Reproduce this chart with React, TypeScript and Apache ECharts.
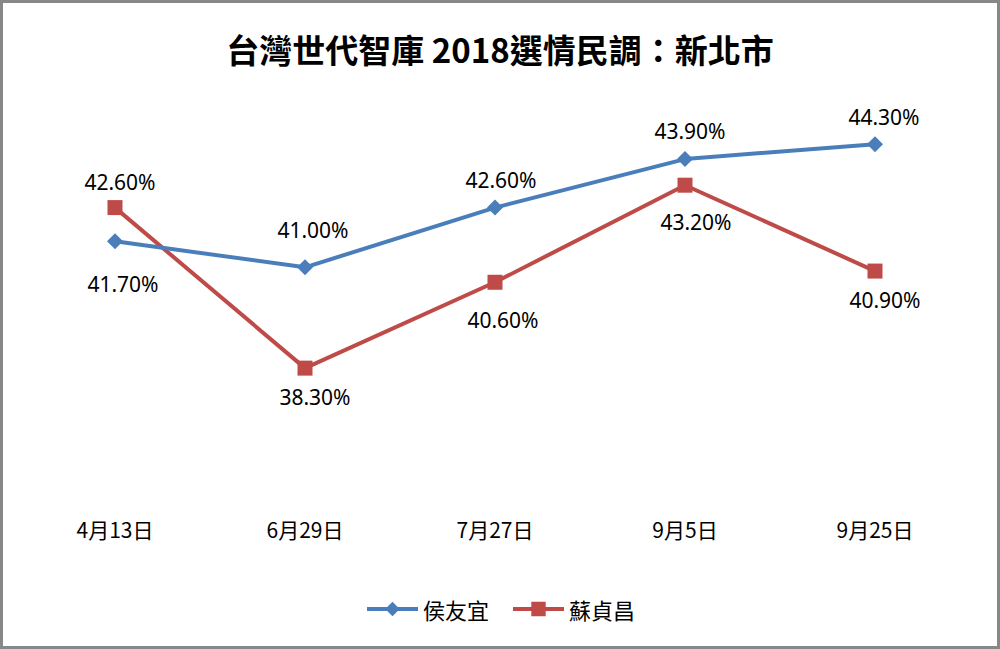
import React, { useEffect, useRef } from "react";
import * as echarts from "echarts";

const categories = ["4月13日", "6月29日", "7月27日", "9月5日", "9月25日"];
const houValues = [41.7, 41.0, 42.6, 43.9, 44.3];
const suValues = [42.6, 38.3, 40.6, 43.2, 40.9];
const seriesNames = ["侯友宜", "蘇貞昌"];
const titleText = "台灣世代智庫 2018選情民調：新北市";

// label placement (style only)
const houLabelOffsets = [[8, 43], [8, -37], [6, -28], [5, -28], [9, -27]];
const suLabelOffsets = [[5, -26], [10, 29], [8, 38], [11, 37], [10, 29]];

const labelFont = "'Noto Sans', sans-serif";
const cjkFont = "'Noto Sans CJK TC', 'Noto Sans', sans-serif";

function buildData(values: number[], offsets: number[][]) {
  return values.map((v, i) => ({
    value: v,
    label: { offset: offsets[i] },
  }));
}

export default function App() {
  const ref = useRef<HTMLDivElement>(null);
  useEffect(() => {
    if (!ref.current) return;
    const chart = echarts.init(ref.current, undefined, { renderer: "svg" });
    const labelCommon = {
      show: true,
      position: "inside",
      formatter: (p: any) => Number(p.value).toFixed(2) + "%",
      color: "#000",
      fontSize: 21,
      fontFamily: labelFont,
    };
    chart.setOption({
      animation: false,
      backgroundColor: "#fff",
      title: {
        text: titleText,
        left: "center",
        top: 27,
        textStyle: {
          fontSize: 33,
          fontWeight: "bold",
          color: "#000",
          fontFamily: cjkFont,
        },
      },
      graphic: [
        {
          type: "rect",
          shape: { x: 1.5, y: 1.5, width: 997, height: 646 },
          style: { fill: "none", stroke: "#888", lineWidth: 3 },
          silent: true,
        },
      ],
      legend: {
        data: seriesNames,
        bottom: 24,
        left: "center",
        itemWidth: 51,
        itemHeight: 18,
        itemGap: 22,
        lineStyle: { width: 4 },
        textStyle: { fontSize: 22, color: "#000", fontFamily: cjkFont },
      },
      grid: { left: 20, right: 30, top: 118, bottom: 139 },
      xAxis: {
        type: "category",
        data: categories,
        boundaryGap: true,
        axisLine: { show: false },
        axisTick: { show: false },
        axisLabel: {
          margin: 8,
          fontSize: 21,
          color: "#000",
          fontFamily: cjkFont,
        },
      },
      yAxis: {
        type: "value",
        min: 34.5,
        max: 45,
        show: false,
        splitLine: { show: false },
      },
      series: [
        {
          name: seriesNames[0],
          type: "line",
          data: buildData(houValues, houLabelOffsets),
          symbol: "diamond",
          symbolSize: 16,
          lineStyle: { color: "#4a7ebb", width: 4 },
          itemStyle: { color: "#4a7ebb" },
          label: labelCommon,
          z: 3,
        },
        {
          name: seriesNames[1],
          type: "line",
          data: buildData(suValues, suLabelOffsets),
          symbol: "rect",
          symbolSize: 15,
          lineStyle: { color: "#be4b48", width: 4 },
          itemStyle: { color: "#be4b48" },
          label: labelCommon,
          z: 2,
        },
      ],
    });
    return () => chart.dispose();
  }, []);
  return (
    <div
      ref={ref}
      style={{ position: "fixed", left: 0, top: 0, width: 1000, height: 649 }}
    />
  );
}
